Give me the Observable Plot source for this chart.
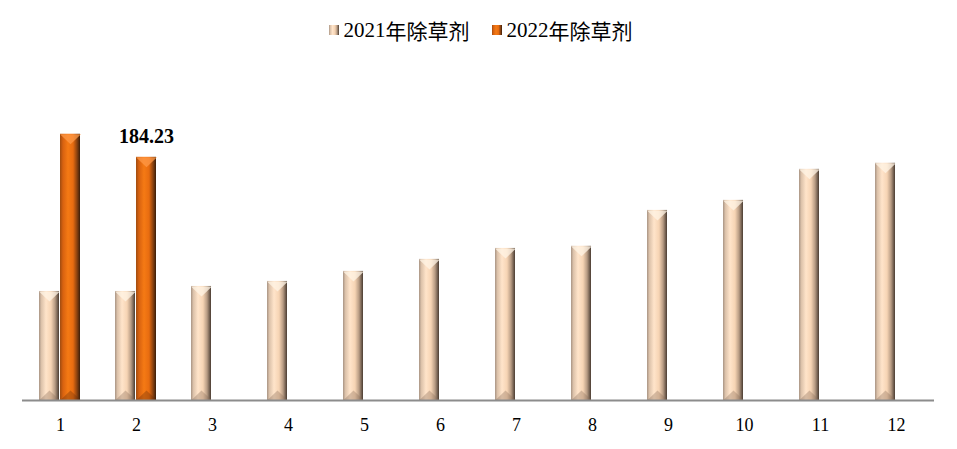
<!DOCTYPE html>
<html lang="zh-CN">
<head>
<meta charset="utf-8">
<script src="https://cdn.jsdelivr.net/npm/d3@7"></script>
<script src="https://cdn.jsdelivr.net/npm/@observablehq/plot@0.6"></script>
<style>
  body { margin: 0; background: #fff; }
  #legend { height: 60px; display: flex; justify-content: center; align-items: center; padding-left: 4px; box-sizing: border-box; color: #000; }
  .item { display: flex; align-items: center; margin: 0 11px; font-size: 21px; }
  .num { font-family: "Liberation Serif", serif; }
  .cjk { font-family: "Noto Sans CJK SC", sans-serif; }
  .sw { width: 10px; height: 10px; margin-right: 5px; }
</style>
</head>
<body>
<svg width="0" height="0" style="position:absolute">
  <defs>
    <linearGradient id="g2021" x1="0" x2="1" y1="0" y2="0">
      <stop offset="0" stop-color="#a89484"/>
      <stop offset="0.12" stop-color="#dcc2aa"/>
      <stop offset="0.35" stop-color="#ffe4ca"/>
      <stop offset="0.6" stop-color="#f6d4b4"/>
      <stop offset="0.8" stop-color="#b89c84"/>
      <stop offset="1" stop-color="#4a3c32"/>
    </linearGradient>
    <linearGradient id="g2022" x1="0" x2="1" y1="0" y2="0">
      <stop offset="0" stop-color="#a04c10"/>
      <stop offset="0.15" stop-color="#d86210"/>
      <stop offset="0.4" stop-color="#f57a14"/>
      <stop offset="0.65" stop-color="#e86c10"/>
      <stop offset="0.85" stop-color="#8a4210"/>
      <stop offset="1" stop-color="#3a1e0a"/>
    </linearGradient>
  </defs>
</svg>
<div id="legend"></div>
<div id="chart"></div>
<script>
const months = [1, 2, 3, 4, 5, 6, 7, 8, 9, 10, 11, 12];
const seriesNames = ["2021年除草剂", "2022年除草剂"];
const values2021 = [82.6, 82.6, 86.4, 90.2, 97.8, 106.9, 115.2, 116.8, 144.0, 151.6, 175.1, 179.7];
const values2022 = [201.7, 184.23];
const labelledMonth = 2;

const rows = [];
months.forEach((m, i) => rows.push({month: m, series: seriesNames[0], value: values2021[i]}));
values2022.forEach((v, i) => rows.push({month: months[i], series: seriesNames[1], value: v}));

const fills = {[seriesNames[0]]: "url(#g2021)", [seriesNames[1]]: "url(#g2022)"};
const topColors = {[seriesNames[0]]: "#fff4e6", [seriesNames[1]]: "#ff9a48"};
const botColors = {[seriesNames[0]]: "#8a6e58", [seriesNames[1]]: "#6a2e08"};

const topTri = {draw(ctx) { ctx.moveTo(-10.5, 0); ctx.lineTo(10.5, 0); ctx.lineTo(0, 10); ctx.closePath(); }};
const botTri = {draw(ctx) { ctx.moveTo(-10.5, 0); ctx.lineTo(10.5, 0); ctx.lineTo(0, -10); ctx.closePath(); }};

const legend = document.getElementById("legend");
seriesNames.forEach(s => {
  const it = document.createElement("div");
  it.className = "item";
  const m = s.match(/^(\d+)(.*)$/);
  it.innerHTML = `<svg class="sw" width="10" height="10"><rect width="10" height="10" fill="${fills[s]}"/></svg><span class="num">${m[1]}</span><span class="cjk">${m[2]}</span>`;
  legend.appendChild(it);
});

const marks = [];
seriesNames.forEach(s => {
  const data = rows.filter(d => d.series === s);
  marks.push(Plot.barY(data, {fx: "month", x: "series", y: "value", fill: fills[s]}));
  marks.push(Plot.dot(data, {fx: "month", x: "series", y: "value", symbol: topTri, fill: topColors[s], fillOpacity: 0.75, stroke: "none"}));
  marks.push(Plot.dot(data, {fx: "month", x: "series", y: () => 0, symbol: botTri, fill: botColors[s], fillOpacity: 0.35, stroke: "none"}));
});
marks.push(Plot.ruleY([0], {stroke: "#8c8c8c", strokeWidth: 2}));
marks.push(Plot.text(rows.filter(d => d.series === seriesNames[1] && d.month === labelledMonth), {
  fx: "month", x: "series", y: "value", text: d => d.value.toFixed(2),
  lineAnchor: "bottom", dy: -14, fontSize: 20, fontWeight: "bold", fill: "#000"
}));

const chart = Plot.plot({
  width: 957,
  height: 389,
  marginTop: 10,
  marginBottom: 49,
  marginLeft: 22,
  marginRight: 23,
  style: {fontFamily: "Liberation Serif, serif", fontSize: "18px", color: "#000", background: "#fff"},
  fx: {domain: months, padding: 0, axis: "bottom", tickSize: 0, tickPadding: 18, label: null},
  x: {domain: seriesNames, axis: null, paddingInner: 0.045, paddingOuter: 0.75},
  y: {domain: [0, 250], axis: null},
  marks
});
document.getElementById("chart").appendChild(chart);
</script>
</body>
</html>
